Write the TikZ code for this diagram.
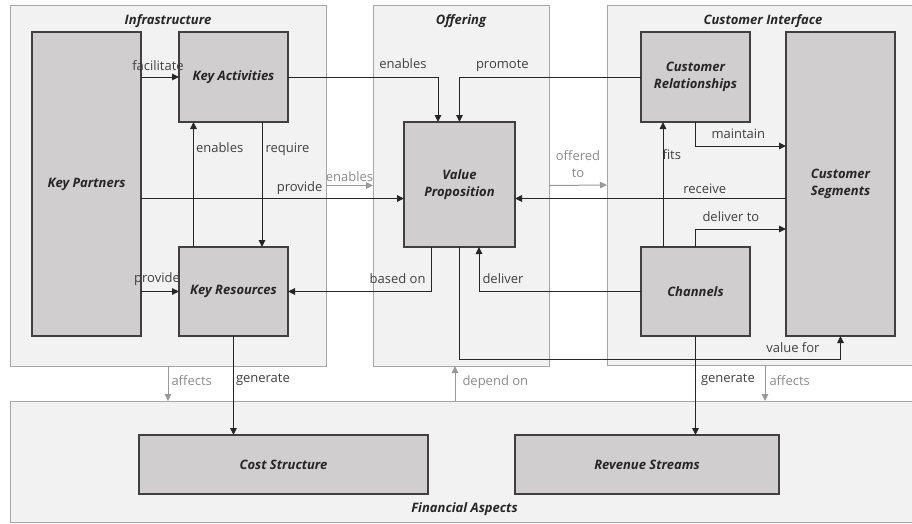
\documentclass[tikz,border=0pt]{standalone}
\usepackage{fontspec}
\setmainfont{Open Sans}
\usetikzlibrary{positioning}
\usetikzlibrary{arrows.meta}
\tikzset{>={Triangle[length=7pt,width=6.5pt]}}
\definecolor{grpfill}{HTML}{F2F2F2}
\definecolor{grpline}{HTML}{A6A6A6}
\definecolor{boxfill}{HTML}{D0CECE}
\definecolor{boxline}{HTML}{404040}
\definecolor{linkcol}{HTML}{262626}
\definecolor{fadecol}{HTML}{999999}
\definecolor{labtext}{HTML}{404040}
\definecolor{fadetext}{HTML}{8C8C8C}

\begin{document}
\begin{tikzpicture}[x=1pt,y=-1pt,
    group/.style={draw=grpline,fill=grpfill,line width=1pt,inner sep=0pt,outer sep=0pt},
    block/.style={draw=boxline,fill=boxfill,line width=1.2pt,inner sep=0pt,outer sep=0pt,align=center,
      font=\fontsize{13}{17}\selectfont\bfseries\itshape,text=black!85},
    gtitle/.style={font=\fontsize{13}{17}\selectfont\bfseries\itshape,text=black!85,inner sep=0pt,anchor=base},
    lbl/.style={font=\fontsize{13}{17}\selectfont,text=labtext,inner sep=0pt},
    flbl/.style={lbl,text=fadetext},
    link/.style={->,draw=linkcol,line width=1pt},
    flink/.style={->,draw=fadecol,line width=1pt}]
  \useasboundingbox[fill=white] (0,0) rectangle (912,523);

  \node[group,minimum width=316pt,minimum height=361pt] (infra) at (168,185.5) {};
  \node[group,minimum width=176pt,minimum height=361pt] (offer) at (461,185.5) {};
  \node[group,minimum width=312pt,minimum height=360pt] (ci) at (763,185) {};
  \node[group,minimum width=909pt,minimum height=121pt] (fin) at (464.5,461.5) {};
  \node[gtitle,yshift=-19pt] (tinfra) at (infra.north) {Infrastructure};
  \node[gtitle,yshift=-19pt] (toffer) at (offer.north) {Offering};
  \node[gtitle,yshift=-19pt] (tci) at (ci.north) {Customer Interface};
  \node[gtitle,yshift=10pt] (tfin) at (fin.south) {Financial Aspects};

  \node[block,minimum width=109pt,minimum height=304pt] (kp) at (86.5,184) {Key Partners};
  \node[block,minimum width=109pt,minimum height=90pt,right=38pt of kp.north east,anchor=north west] (ka) {Key Activities};
  \node[block,minimum width=109pt,minimum height=89pt,right=38pt of kp.south east,anchor=south west] (kr) {Key Resources};
  \node[block,minimum width=111pt,minimum height=125pt,right=116pt of ka.south east,anchor=north west] (vp) {Value\\Proposition};
  \node[block,minimum width=109pt,minimum height=90pt,right=126pt of vp.north east,anchor=south west] (cr) {Customer\\Relationships};
  \node[block,minimum width=109pt,minimum height=304pt,right=36pt of cr.north east,anchor=north west] (cs) {Customer\\Segments};
  \node[block,minimum width=109pt,minimum height=89pt,left=36pt of cs.south west,anchor=south east] (ch) {Channels};
  \node[block,minimum width=289pt,minimum height=59pt] (cost) at (283.5,464.5) {Cost Structure};
  \node[block,minimum width=264pt,minimum height=59pt,right=87pt of cost] (rev) {Revenue Streams};

  \coordinate (vpin) at ([yshift=-14pt]vp.west);
  \coordinate (dep) at ([xshift=-6pt]offer.south);
  \coordinate (aff) at ([xshift=2pt]ci.south);

  \draw[link] (ka.west -| kp.east) -- node[lbl,anchor=base,xshift=-2pt,yshift=7pt] (l1) {facilitate} (ka.west);
  \draw[link] (kr.west -| kp.east) -- node[lbl,anchor=base,xshift=-3pt,yshift=9.5pt] (l2) {provide} (kr.west);
  \draw[link] (ka.east) -| node[lbl,pos=0.5,anchor=base east,xshift=-11pt,yshift=9pt] (l3) {enables} ([xshift=-21.5pt]vp.north);
  \draw[link] (cr.west) -| node[lbl,pos=0.5,anchor=base west,xshift=16pt,yshift=9pt] (l4) {promote} (vp.north);
  \draw[link] ([xshift=-40pt]kr.north) -- node[lbl,pos=0.76,anchor=base west,xshift=2pt] (l5) {enables} ([xshift=-40pt]ka.south);
  \draw[link] ([xshift=28.5pt]ka.south) -- node[lbl,pos=0.24,anchor=base west,xshift=3pt] (l6) {require} ([xshift=28.5pt]kr.north);
  \draw[link] (kp.east |- vpin) -- node[lbl,pos=0.692,anchor=base east,yshift=7pt] (l7) {provide} (vpin);
  \draw[flink] (infra.east) -- node[flbl,anchor=base,yshift=4.5pt] (l8) {enables} (offer.west);
  \draw[flink] (offer.east) -- node[flbl,align=center,anchor=south,yshift=7pt] (l9) {offered\\to} (ci.west);
  \draw[link] (cs.west |- vpin) -- node[lbl,pos=0.3,anchor=base,yshift=5pt] (l10) {receive} (vpin -| vp.east);
  \draw[link] ([xshift=-32.5pt]ch.north) -- node[lbl,pos=0.7,anchor=base west,xshift=-1pt] (l11) {fits} ([xshift=-32.5pt]cr.south);
  \draw[link] (cr.south) |- node[lbl,pos=0.5,anchor=base west,xshift=15.5pt,yshift=8pt] (l12) {maintain} ([yshift=38pt]cs.west);
  \draw[link] (ch.north) |- node[lbl,pos=0.5,anchor=base west,xshift=6.5pt,yshift=8pt] (l13) {deliver to} ([yshift=-45pt]cs.west);
  \draw[link] (ch.west) -| node[lbl,pos=0.5,anchor=base west,xshift=3pt,yshift=8.5pt] (l14) {deliver} ([xshift=19.5pt]vp.south);
  \draw[link] ([xshift=-28.5pt]vp.south) |- node[lbl,pos=0.5,anchor=base east,xshift=-5pt,yshift=8.5pt] (l15) {based on} (kr.east);
  \draw[link] (vp.south) -- ++(0,112) -| node[lbl,pos=0.5,anchor=base east,xshift=-20.5pt,yshift=7pt] (l16) {value for} (cs.south);
  \draw[link] (kr.south) -- node[lbl,pos=0.47,anchor=base west,xshift=2pt] (l17) {generate} (kr.south |- cost.north);
  \draw[link] (ch.south) -- node[lbl,pos=0.47,anchor=base west,xshift=5pt] (l18) {generate} (ch.south |- rev.north);
  \draw[flink] (infra.south) -- node[flbl,pos=0.57,anchor=base west,xshift=3pt] (l19) {affects} (infra.south |- fin.north);
  \draw[flink] (dep |- fin.north) -- node[flbl,pos=0.43,anchor=base west,xshift=7pt] (l20) {depend on} (dep);
  \draw[flink] (aff) -- node[flbl,pos=0.57,anchor=base west,xshift=4pt] (l21) {affects} (aff |- fin.north);
\end{tikzpicture}
\end{document}
